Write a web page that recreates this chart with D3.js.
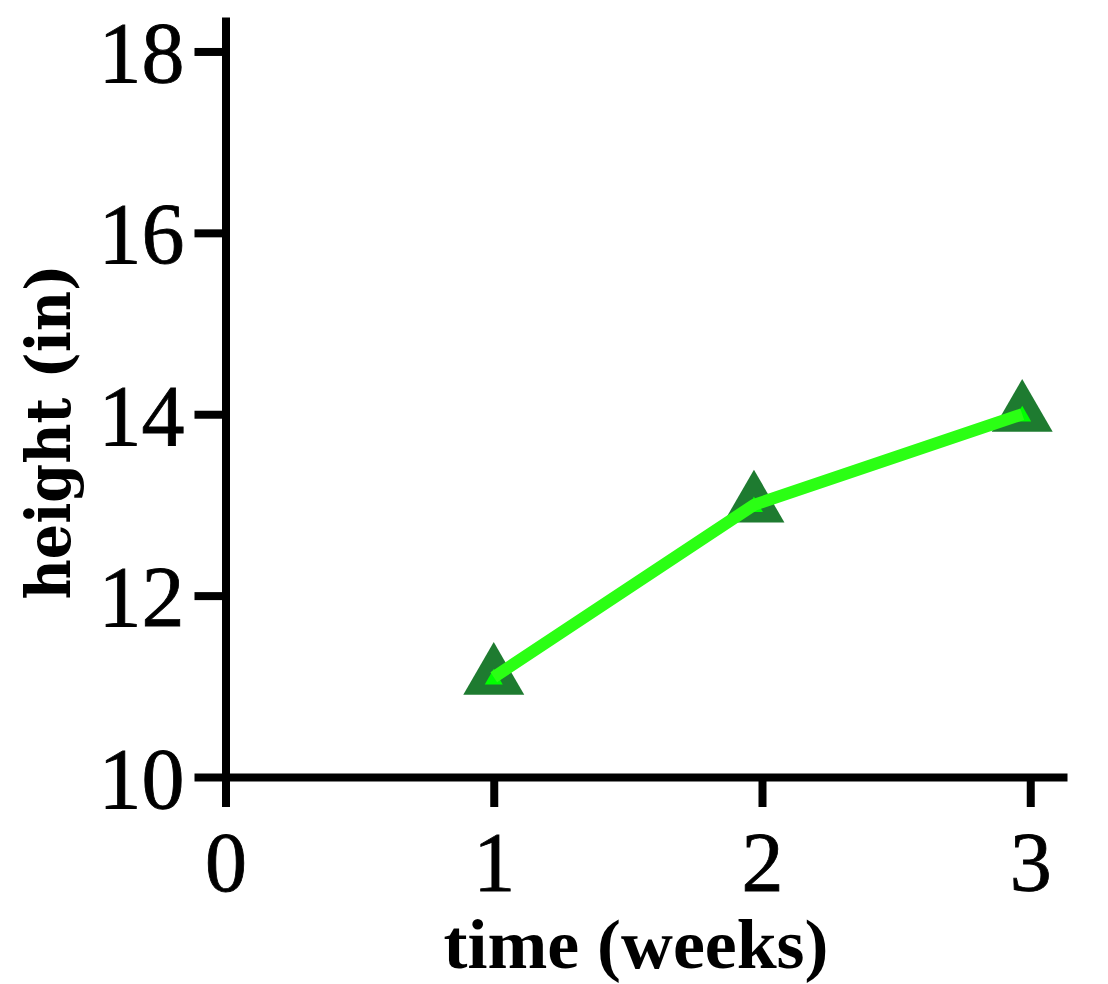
<!DOCTYPE html>
<html>
<head>
<meta charset="utf-8">
<script src="https://cdn.jsdelivr.net/npm/d3@7"></script>
<style>
  html, body { margin: 0; padding: 0; background: #fff; }
  svg { display: block; }
</style>
</head>
<body>
<svg id="chart" width="1108" height="984"></svg>
<script>
// Data
const weeks = [1, 1.97, 2.97];
const heights = [11.1, 13, 14];
const xTicks = [0, 1, 2, 3];
const yTicks = [10, 12, 14, 16, 18];
const xLabel = "time (weeks)";
const yLabel = "height (in)";

const svg = d3.select("#chart");

const x = d3.scaleLinear().domain([0, 3.137]).range([225.5, 1067]);
const y = d3.scaleLinear().domain([10, 18.38]).range([777, 17]);

const axisColor = "#000";
const axisWidth = 8;
const tickFont = "'Liberation Serif', 'Times New Roman', serif";

// X axis
const gx = svg.append("g")
  .attr("transform", `translate(0,${y(10)})`)
  .call(d3.axisBottom(x).tickValues(xTicks).tickFormat(d3.format("d"))
        .tickSize(30).tickSizeOuter(0).tickPadding(0));
gx.select(".domain").attr("stroke", axisColor).attr("stroke-width", axisWidth);
gx.selectAll(".tick line").attr("stroke", axisColor).attr("stroke-width", axisWidth);
gx.selectAll(".tick text")
  .attr("font-family", tickFont)
  .attr("font-size", 84).attr("fill", "#000")
  .attr("y", 114).attr("dy", null)
  .attr("stroke", "#000").attr("stroke-width", 0.8);

// Y axis
const gy = svg.append("g")
  .attr("transform", `translate(${x(0)},0)`)
  .call(d3.axisLeft(y).tickValues(yTicks).tickFormat(d3.format("d"))
        .tickSize(31).tickSizeOuter(0).tickPadding(10));
gy.select(".domain").attr("stroke", axisColor).attr("stroke-width", axisWidth);
gy.selectAll(".tick line").attr("stroke", axisColor).attr("stroke-width", axisWidth);
gy.selectAll(".tick text")
  .attr("font-family", tickFont)
  .attr("font-size", 86).attr("fill", "#000").attr("dy", "0.35em")
  .attr("stroke", "#000").attr("stroke-width", 0.8);

const data = weeks.map((w, i) => ({ w, h: heights[i] }));

// Big markers
svg.append("g").selectAll("path")
  .data(data).join("path")
  .attr("d", d3.symbol().type(d3.symbolTriangle).size(1610))
  .attr("transform", d => `translate(${x(d.w)},${y(d.h)})`)
  .attr("fill", "#1e7b30");

// Small bright markers
svg.append("g").selectAll("path")
  .data(data).join("path")
  .attr("d", d3.symbol().type(d3.symbolTriangle).size(140))
  .attr("transform", d => `translate(${x(d.w)},${y(d.h) + 2})`)
  .attr("fill", "#00ff00");

// Line
const line = d3.line().x(d => x(d.w)).y(d => y(d.h));
svg.append("path")
  .datum(data)
  .attr("d", line)
  .attr("fill", "none")
  .attr("stroke", "#2bff14")
  .attr("stroke-width", 12)
  .attr("stroke-linejoin", "miter")
  .attr("stroke-linecap", "butt");

// Axis labels
svg.append("text")
  .attr("x", 636).attr("y", 968)
  .attr("text-anchor", "middle")
  .attr("font-family", "'Liberation Serif', 'Times New Roman', serif")
  .attr("font-weight", "bold")
  .attr("font-size", 70)
  .attr("textLength", 385)
  .attr("lengthAdjust", "spacingAndGlyphs")
  .attr("fill", "#000")
  .text(xLabel);

svg.append("text")
  .attr("transform", "translate(70,432) rotate(-90)")
  .attr("text-anchor", "middle")
  .attr("font-family", "'DejaVu Serif', serif")
  .attr("font-weight", "bold")
  .attr("font-size", 62)
  .attr("textLength", 335)
  .attr("lengthAdjust", "spacingAndGlyphs")
  .attr("fill", "#000")
  .text(yLabel);
</script>
</body>
</html>
